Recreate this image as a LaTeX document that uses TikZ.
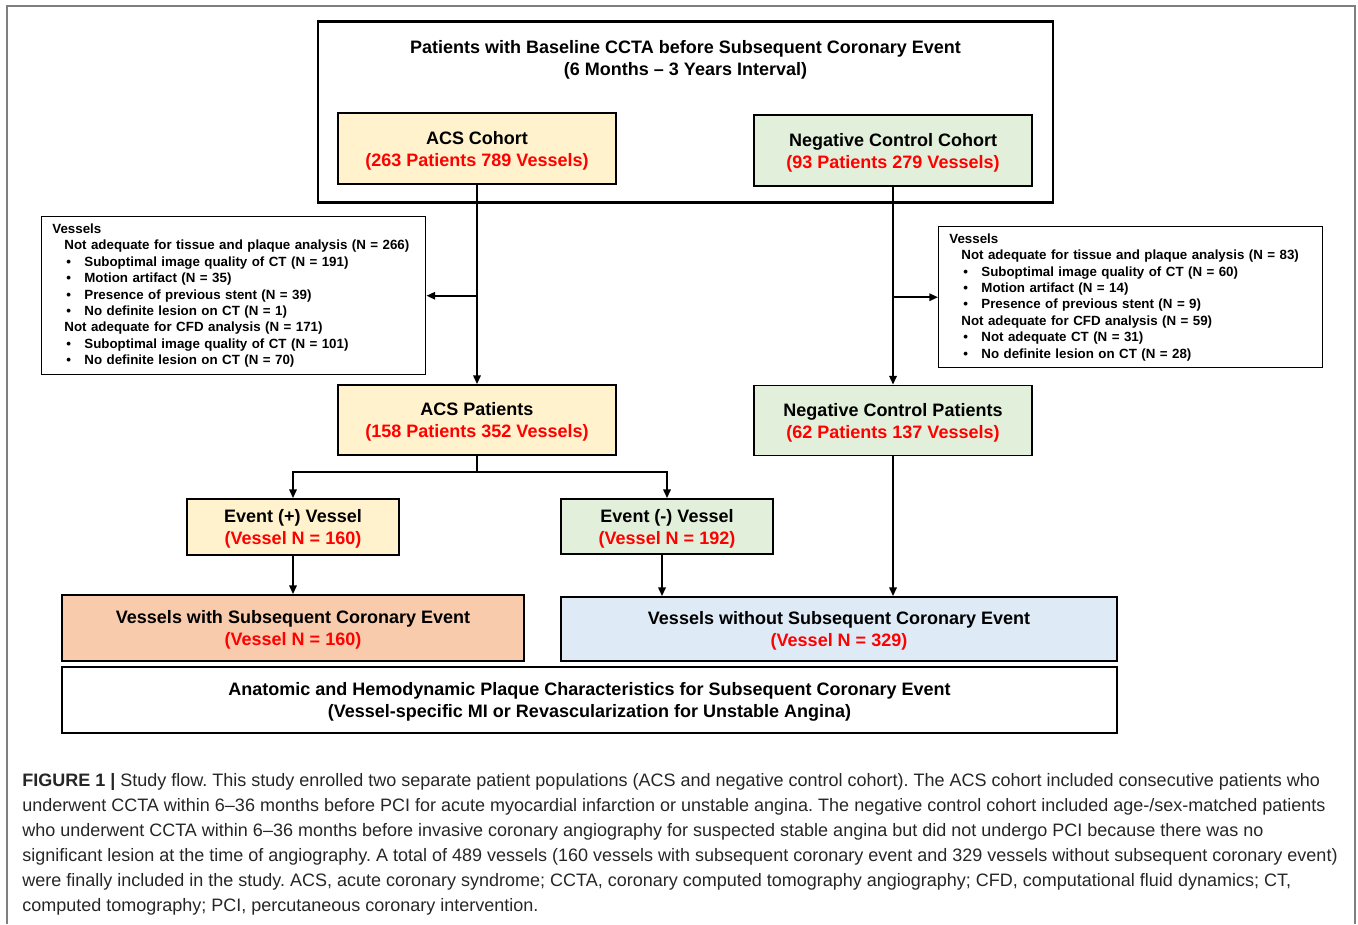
\documentclass[tikz,border=0pt]{standalone}
\usepackage{fontspec}
\setmainfont{Liberation Sans}
\usepackage{xcolor}
\usetikzlibrary{arrows.meta}

\definecolor{acsyel}{HTML}{FFF2CC}
\definecolor{ncgreen}{HTML}{E2EFDA}
\definecolor{evorange}{HTML}{F8CBAD}
\definecolor{noblue}{HTML}{DEEBF7}
\definecolor{framegray}{HTML}{7F7F7F}

\tikzset{
  flowbox/.style={draw, line width=1.3pt, align=center, inner sep=0pt, text depth=0pt,
    font=\fontsize{13.5}{16.5}\selectfont\bfseries},
  exclbox/.style={draw, line width=1.1pt, align=left, anchor=north west,
    inner xsep=8pt, inner ysep=0pt, text width=272pt, minimum height=118.5pt,
    font=\fontsize{10}{12.3}\selectfont\bfseries},
  arr/.style={line width=1.5pt, -{Triangle[length=6.5pt,width=5.5pt]}},
  num/.style={text=red}
}
\newcommand{\bul}[1]{\hspace*{10.5pt}\makebox[13.5pt][l]{\textbullet}#1}
\newcommand{\sub}[1]{\hspace*{9pt}#1}

\begin{document}
\frenchspacing
\begin{tikzpicture}[x=0.75pt,y=-0.75pt]
\useasboundingbox (0,0) rectangle (1358,924);
\draw[framegray, line width=1.5pt] (7,924) -- (7,6) -- (1355,6) -- (1355,924);

% top frame
\node[flowbox, minimum width=551.25pt, minimum height=135pt] (frame) at (685.5,112) {};
\draw[line width=2.4pt] (frame.north west) -- (frame.north east);
\draw[line width=2.4pt] (frame.south west) -- (frame.south east);
\node[font=\fontsize{13.5}{16.5}\selectfont\bfseries, align=center] (title) at (685.5,60)
  {Patients with Baseline CCTA before Subsequent Coronary Event\\(6 Months -- 3 Years Interval)};

\node[flowbox, fill=acsyel, minimum width=208.5pt, minimum height=53.25pt] (acsc) at (477,148.5)
  {ACS Cohort\\\textcolor{red}{(263 Patients 789 Vessels)}};
\node[flowbox, fill=ncgreen, minimum width=208.5pt, minimum height=53.25pt] (ncc) at (893,150.5)
  {Negative Control Cohort\\\textcolor{red}{(93 Patients 279 Vessels)}};

% exclusions
\node[exclbox] (lvess) at (41,216) {Vessels\\
  \sub{Not adequate for tissue and plaque analysis (N = 266)}\\
  \bul{Suboptimal image quality of CT (N = 191)}\\
  \bul{Motion artifact (N = 35)}\\
  \bul{Presence of previous stent (N = 39)}\\
  \bul{No definite lesion on CT (N = 1)}\\
  \sub{Not adequate for CFD analysis (N = 171)}\\
  \bul{Suboptimal image quality of CT (N = 101)}\\
  \bul{No definite lesion on CT (N = 70)}};
\node[exclbox, minimum height=105.75pt] (rvess) at (938,226) {Vessels\\
  \sub{Not adequate for tissue and plaque analysis (N = 83)}\\
  \bul{Suboptimal image quality of CT (N = 60)}\\
  \bul{Motion artifact (N = 14)}\\
  \bul{Presence of previous stent (N = 9)}\\
  \sub{Not adequate for CFD analysis (N = 59)}\\
  \bul{Not adequate CT (N = 31)}\\
  \bul{No definite lesion on CT (N = 28)}};

\node[flowbox, fill=acsyel, minimum width=208.5pt, minimum height=52.5pt] (acsp) at (477,420)
  {ACS Patients\\\textcolor{red}{(158 Patients 352 Vessels)}};
\node[flowbox, fill=ncgreen, minimum width=208.5pt, minimum height=52.5pt] (ncp) at (893,420.5)
  {Negative Control Patients\\\textcolor{red}{(62 Patients 137 Vessels)}};

\node[flowbox, fill=acsyel, minimum width=159pt, minimum height=42pt] (evp) at (293,527)
  {Event (+) Vessel\\\textcolor{red}{(Vessel N = 160)}};
\node[flowbox, fill=ncgreen, minimum width=159pt, minimum height=41.25pt] (evn) at (667,526.5)
  {Event (-) Vessel\\\textcolor{red}{(Vessel N = 192)}};

\node[flowbox, fill=evorange, minimum width=346.5pt, minimum height=49.5pt] (vwith) at (293,628)
  {Vessels with Subsequent Coronary Event\\\textcolor{red}{(Vessel N = 160)}};
\node[flowbox, fill=noblue, minimum width=417pt, minimum height=48pt] (vwo) at (839,629)
  {Vessels without Subsequent Coronary Event\\\textcolor{red}{(Vessel N = 329)}};
\node[flowbox, minimum width=791.25pt, minimum height=49.5pt] (anat) at (589.5,700)
  {Anatomic and Hemodynamic Plaque Characteristics for Subsequent Coronary Event\\
   (Vessel-specific MI or Revascularization for Unstable Angina)};

% connectors
\draw[arr] (acsc.south) -- (acsp.north);
\draw[arr] (acsc.south |- lvess.east) -- (lvess.east);
\draw[arr] (ncc.south) -- (ncp.north);
\draw[arr] (ncc.south |- rvess.west) -- (rvess.west);
\draw[arr] (acsp.south) -- ++(0,16) -| (evp.north);
\draw[arr] (acsp.south) -- ++(0,16) -| (evn.north);
\draw[arr] (evp.south) -- (evp.south |- vwith.north);
\draw[arr] ([xshift=-3.75pt]evn.south) -- ([xshift=-3.75pt]evn.south |- vwo.north);
\draw[arr] (ncp.south) -- (ncp.south |- vwo.north);

% caption
\node[anchor=north west, inner sep=0pt, align=left, text=black!85,
  font=\fontsize{13.5}{18.75}\selectfont] (caption) at (22,773)
  {\textbf{FIGURE 1 |} Study flow. This study enrolled two separate patient populations (ACS and negative control cohort). The ACS cohort included consecutive patients who\\
   underwent CCTA within 6--36 months before PCI for acute myocardial infarction or unstable angina. The negative control cohort included age-/sex-matched patients\\
   who underwent CCTA within 6--36 months before invasive coronary angiography for suspected stable angina but did not undergo PCI because there was no\\
   significant lesion at the time of angiography. A total of 489 vessels (160 vessels with subsequent coronary event and 329 vessels without subsequent coronary event)\\
   were finally included in the study. ACS, acute coronary syndrome; CCTA, coronary computed tomography angiography; CFD, computational fluid dynamics; CT,\\
   computed tomography; PCI, percutaneous coronary intervention.};
\end{tikzpicture}
\end{document}
